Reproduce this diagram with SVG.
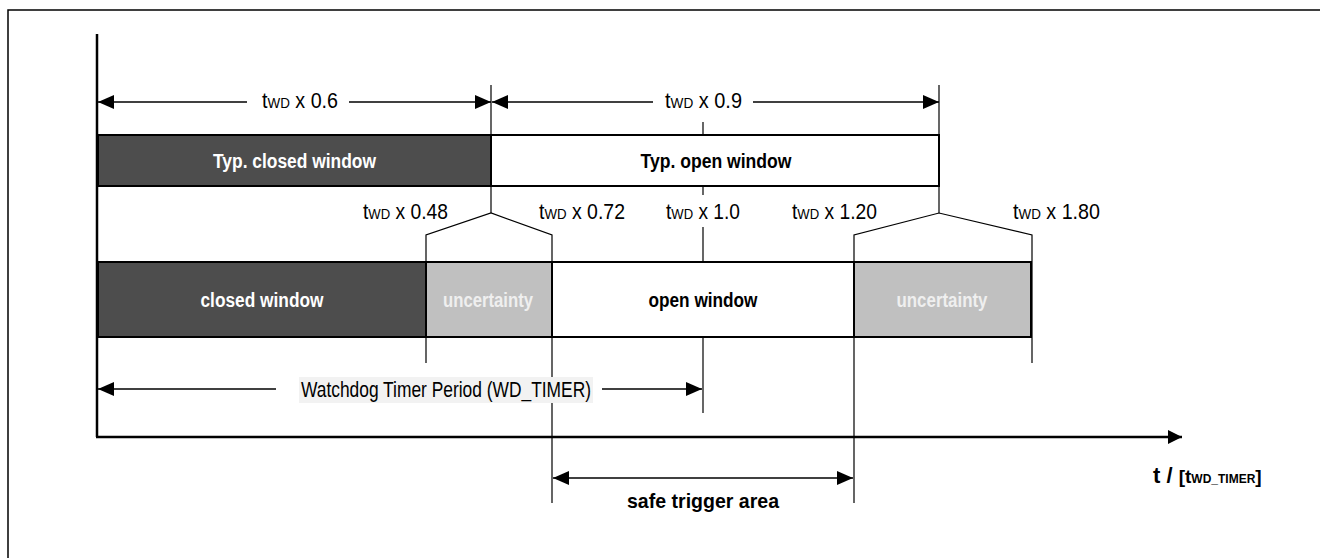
<svg xmlns="http://www.w3.org/2000/svg" width="1320" height="558" viewBox="0 0 1320 558">
<defs>
<marker id="ah" markerUnits="userSpaceOnUse" markerWidth="16" markerHeight="14" refX="16" refY="7" orient="auto-start-reverse"><path d="M0,0 L16,7 L0,14 z" fill="#000"/></marker>
<marker id="ahBig" markerUnits="userSpaceOnUse" markerWidth="14" markerHeight="14" refX="14" refY="7" orient="auto"><path d="M0,0 L14,7 L0,14 z" fill="#000"/></marker>
<style>
.frame{fill:none;stroke:#000;stroke-width:1.5}
.axis{fill:none;stroke:#000;stroke-width:2.5}
.dim{fill:none;stroke:#000;stroke-width:1.6}
.thin{fill:none;stroke:#000;stroke-width:1.2}
.box{stroke:#000;stroke-width:2}
.dark{fill:#4d4d4d}
.gray{fill:#c0c0c0}
.white{fill:#fff}
.lbl{font-family:"Liberation Sans",Arial,sans-serif;font-size:22px;fill:#000}
.sub{font-size:15px}
.bw{font-family:"Liberation Sans",Arial,sans-serif;font-size:20px;font-weight:bold;fill:#fff;text-anchor:middle}
.bb{font-family:"Liberation Sans",Arial,sans-serif;font-size:20px;font-weight:bold;fill:#000;text-anchor:middle}
.unc{fill:#efefef}
</style>
</defs>
<rect class="frame" x="8" y="10" width="1340" height="600"/>

<g id="connectors">
<line class="axis" x1="97" y1="34" x2="97" y2="437"/>
<line class="axis" x1="96" y1="437" x2="1182" y2="437" marker-end="url(#ahBig)"/>
<line class="dim" x1="98" y1="102" x2="247" y2="102" marker-start="url(#ah)"/>
<line class="dim" x1="349" y1="102" x2="491" y2="102" marker-end="url(#ah)"/>
<line class="dim" x1="492" y1="102" x2="653" y2="102" marker-start="url(#ah)"/>
<line class="dim" x1="753" y1="102" x2="939" y2="102" marker-end="url(#ah)"/>
<line class="thin" x1="491" y1="85" x2="491" y2="213"/>
<line class="thin" x1="939" y1="85" x2="939" y2="213"/>
<polyline class="thin" points="426,363 426,235 491,213 552,235 552,503"/>
<polyline class="thin" points="854,503 854,235 939,213 1032,235 1032,363"/>
<line class="thin" x1="703" y1="122" x2="703" y2="135"/>
<line class="thin" x1="703" y1="186" x2="703" y2="195"/>
<line class="thin" x1="703" y1="227" x2="703" y2="262"/>
<line class="thin" x1="703" y1="337" x2="703" y2="413"/>
<line class="dim" x1="98" y1="389" x2="276" y2="389" marker-start="url(#ah)"/>
<line class="dim" x1="602" y1="389" x2="702" y2="389" marker-end="url(#ah)"/>
<line class="dim" x1="553" y1="478" x2="853" y2="478" marker-start="url(#ah)" marker-end="url(#ah)"/>
</g>

<g id="typ-closed-window">
<rect class="box dark" x="98" y="135" width="393" height="51"/>
<text class="bw" x="294.5" y="168" textLength="163" lengthAdjust="spacingAndGlyphs">Typ. closed window</text>
</g>
<g id="typ-open-window">
<rect class="box white" x="491" y="135" width="448" height="51"/>
<text class="bb" x="716" y="168" textLength="151" lengthAdjust="spacingAndGlyphs">Typ. open window</text>
</g>

<g id="closed-window">
<rect class="box dark" x="98" y="262" width="328" height="75"/>
<text class="bw" x="262" y="307" textLength="123" lengthAdjust="spacingAndGlyphs">closed window</text>
</g>
<g id="uncertainty-1">
<rect class="box gray" x="426" y="262" width="126" height="75"/>
<text class="bw unc" x="488" y="307" textLength="90" lengthAdjust="spacingAndGlyphs">uncertainty</text>
</g>
<g id="open-window">
<rect class="box white" x="552" y="262" width="302" height="75"/>
<text class="bb" x="703" y="307" textLength="109" lengthAdjust="spacingAndGlyphs">open window</text>
</g>
<g id="uncertainty-2">
<rect class="box gray" x="854" y="262" width="177" height="75"/>
<text class="bw unc" x="942" y="307" textLength="91" lengthAdjust="spacingAndGlyphs">uncertainty</text>
</g>

<g id="labels">
<text class="lbl" x="262" y="108" textLength="76" lengthAdjust="spacingAndGlyphs">t<tspan class="sub">WD</tspan> x 0.6</text>
<text class="lbl" x="665" y="108" textLength="77" lengthAdjust="spacingAndGlyphs">t<tspan class="sub">WD</tspan> x 0.9</text>
<text class="lbl" x="363" y="219" textLength="85" lengthAdjust="spacingAndGlyphs">t<tspan class="sub">WD</tspan> x 0.48</text>
<text class="lbl" x="539" y="219" textLength="86" lengthAdjust="spacingAndGlyphs">t<tspan class="sub">WD</tspan> x 0.72</text>
<text class="lbl" x="666" y="219" textLength="74" lengthAdjust="spacingAndGlyphs">t<tspan class="sub">WD</tspan> x 1.0</text>
<text class="lbl" x="792" y="219" textLength="85" lengthAdjust="spacingAndGlyphs">t<tspan class="sub">WD</tspan> x 1.20</text>
<text class="lbl" x="1013" y="219" textLength="87" lengthAdjust="spacingAndGlyphs">t<tspan class="sub">WD</tspan> x 1.80</text>
</g>

<g id="watchdog-period">
<rect x="299" y="377" width="294" height="26" fill="#f2f2f2"/>
<text class="lbl" x="446" y="397" text-anchor="middle" textLength="290" lengthAdjust="spacingAndGlyphs">Watchdog Timer Period (WD_TIMER)</text>
</g>

<g id="safe-trigger-area">
<text class="bb" x="703" y="508" style="font-size:21px" textLength="152" lengthAdjust="spacingAndGlyphs">safe trigger area</text>
</g>

<g id="axis-label">
<text x="1153" y="483" style="font-family:'Liberation Sans',Arial,sans-serif;font-weight:bold;font-size:22px">t / <tspan style="font-size:19px">[t</tspan><tspan style="font-size:12px">WD_TIMER</tspan><tspan style="font-size:19px">]</tspan></text>
</g>
</svg>
